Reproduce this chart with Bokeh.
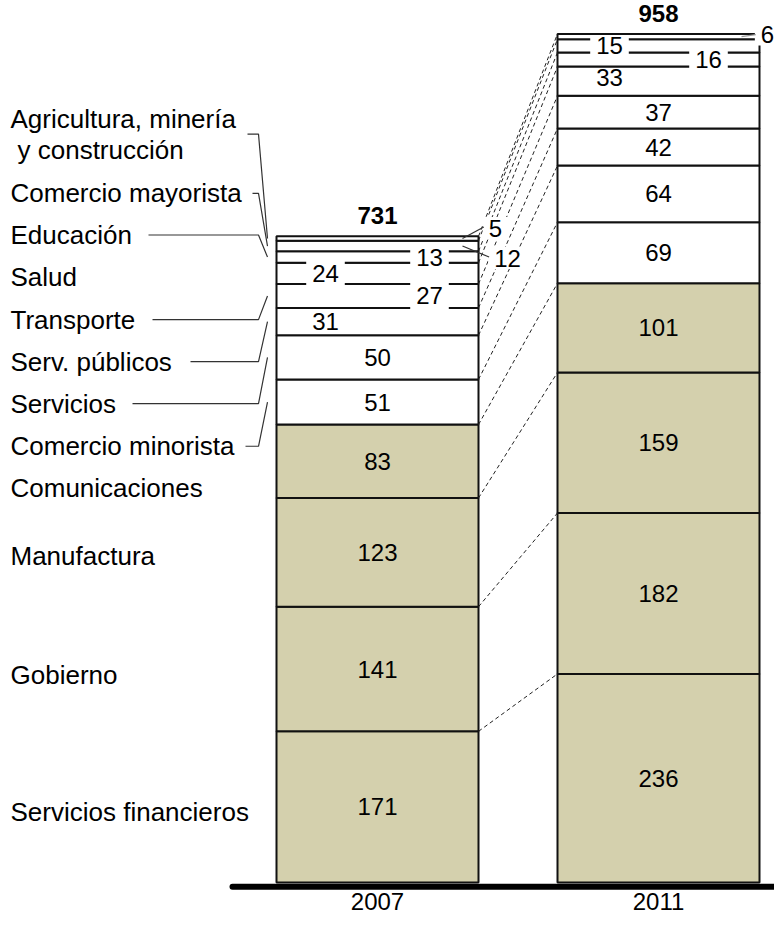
import numpy as np
from bokeh.plotting import figure
from bokeh.models import Range1d, ColumnDataSource
from bokeh.embed import file_html
from bokeh.resources import INLINE
from bokeh.core.properties import value

# ---------------- data ----------------
years = ["2007", "2011"]
categories = ["Servicios financieros", "Gobierno", "Manufactura", "Comunicaciones",
              "Comercio minorista", "Servicios", "Serv. públicos", "Transporte",
              "Salud", "Educación", "Comercio mayorista",
              "Agricultura, minería y construcción"]
values_2007 = [171, 141, 123, 83, 51, 50, 31, 27, 24, 13, 12, 5]
values_2011 = [236, 182, 159, 101, 69, 64, 42, 37, 33, 16, 15, 6]
totals = [731, 958]

# ---------------- layout ----------------
W, H = 774, 920
OX, OY = 0, 4                               # reference pixel shown at figure pixel (0, 0)
BASE_PX, PX_PER_UNIT = 895.4, 0.8934        # reference pixel of value 0, pixels per unit
PX_SCREEN = 0.884                           # pixels per unit actually drawn (fits height)
C0, C1 = 377.0, 658.0                       # reference pixel centres of the two bars
SPAN = C1 - C0


def X(px):
    return (px - C0) / SPAN


def Y(px):
    return (BASE_PX - px) / PX_PER_UNIT


def dX(px):
    return px / SPAN


def dY(px):
    return -px / PX_SCREEN


BAR_W = 202 / SPAN
N_SHADED = 4
KHAKI = "#D4D0AD"
FONT = "Liberation Sans"
LABEL_SIZE = "26px"
NUM_SIZE = "24px"

y_top = Y(OY)
p = figure(width=W, height=H, output_backend="svg", toolbar_location=None,
           x_range=Range1d(X(OX), X(OX + W)),
           y_range=Range1d(y_top - H / PX_SCREEN, y_top),
           x_axis_type=None, y_axis_type=None, min_border_left=0, min_border_right=0,
           min_border_top=0, min_border_bottom=0, outline_line_color=None,
           background_fill_color="white", border_fill_color="white")
p.grid.visible = False

series = [values_2007, values_2011]
n = len(categories)
cums = [np.cumsum(v) for v in series]
mids = [np.cumsum(v) - np.array(v) / 2.0 for v in series]

# ---- stacked bars ----
for i, vals in enumerate(series):
    tops = cums[i]
    bottoms = tops - np.array(vals)
    src = ColumnDataSource(dict(
        left=[i - BAR_W / 2] * n, right=[i + BAR_W / 2] * n,
        bottom=bottoms, top=tops,
        fill=[KHAKI if k < N_SHADED else "white" for k in range(n)]))
    p.quad(left="left", right="right", bottom="bottom", top="top", source=src,
           fill_color="fill", line_color="#111111", line_width=2)

# ---- dashed connectors between matching boundaries ----
p.segment(x0=[BAR_W / 2] * n, y0=cums[0], x1=[1 - BAR_W / 2] * n, y1=cums[1],
          line_color="#222222", line_width=1, line_dash="4 3")

# ---- base line ----
p.line(x=[X(232), X(800)], y=[dY(4.3)] * 2, line_color="black",
       line_width=6, line_cap="round")

# ---- value labels ----
# offsets in pixels (dx right, dy down) from bar centre / segment middle
label_offsets = {
    (0, 6): (-52, 0), (0, 7): (52, 0), (0, 8): (-52, 0), (0, 9): (52, 0),
    (0, 10): (130, 12), (0, 11): (118, -10.5),
    (1, 8): (-49, -4), (1, 9): (50, 0), (1, 10): (-49, 0), (1, 11): (109, -2),
}
outside = {(0, 10), (0, 11), (1, 11)}
boxed = {(0, 7), (0, 8), (0, 9), (1, 9), (1, 10)} | outside

lx, ly, lt = [], [], []
bx, by, bw, bh = [], [], [], []
lead = []
for i, vals in enumerate(series):
    for k, v in enumerate(vals):
        dx, dy = label_offsets.get((i, k), (0, 0))
        x = i + dX(dx)
        y = mids[i][k] + dY(dy)
        txt = str(v)
        lx.append(x); ly.append(y); lt.append(txt)
        if (i, k) in boxed:
            seg_px = v * PX_SCREEN
            h = 22 if (i, k) in outside else max(seg_px + 4, 18)
            bx.append(x); by.append(y); bw.append(len(txt) * 13.3 + 12); bh.append(h)
        if (i, k) in outside:
            x_start = i + BAR_W / 2 - dX(16 if i == 0 else 18)
            x_end = x - dX(len(txt) * 6.7 + 5)
            lead.append((x_start, mids[i][k], x_end, y + dY(-1 if i == 0 else 0),
                         "#333333" if i == 0 else "#999999"))

p.rect(x=bx, y=by, width=bw, height=bh, width_units="screen", height_units="screen",
       fill_color="white", line_color=None)

for x0, y0, x1, y1, c in lead:
    p.line(x=[x0, x1], y=[y0, y1], line_color=c, line_width=1.2)

p.text(x=lx, y=ly, text=lt, text_font=value(FONT), text_font_size=NUM_SIZE,
       text_align="center", text_baseline="middle", text_color="black")

# ---- totals ----
p.text(x=[0, 1], y=[cums[0][-1] + dY(-20.5), cums[1][-1] + dY(-20)],
       text=[str(t) for t in totals], text_font=value(FONT), text_font_size=NUM_SIZE,
       text_font_style="bold", text_align="center", text_baseline="middle",
       text_color="black")

# ---- year labels ----
p.text(x=[0, 1], y=[dY(19)] * 2, text=years, text_font=value(FONT),
       text_font_size=NUM_SIZE, text_align="center", text_baseline="middle",
       text_color="black")

# ---- category labels on the left ----
cat_label_y = [824, 686, 565, 497, 454.5, 411.5, 369, 326.5, 283, 241.3, 199, 124]
ctx, ctxx, cty = [], [], []
for k, name in enumerate(categories):
    if " y " in name:
        a, b = name.split(" y ", 1)
        ctx += [a, "y " + b]
        ctxx += [X(10), X(17)]
        cty += [Y(cat_label_y[k]), Y(cat_label_y[k] + 31)]
    else:
        ctx.append(name)
        ctxx.append(X(10))
        cty.append(Y(cat_label_y[k]))
p.text(x=ctxx, y=cty, text=ctx, text_font=value(FONT),
       text_font_size=LABEL_SIZE, text_align="left", text_baseline="middle",
       text_color="black")

# ---- leader lines from category labels to 2007 segments ----
leaders = [(11, 247, 139), (10, 252, 199), (9, 148, 241), (7, 152, 326.5),
           (6, 190, 369), (5, 132, 411.5), (4, 245, 454.5)]
ELBOW_PX, END_PX = 258, 267
for k, sx, ypx in leaders:
    p.line(x=[X(sx), X(ELBOW_PX), X(END_PX)], y=[Y(ypx), Y(ypx), mids[0][k]],
           line_color="#333333", line_width=1.2)

open("out.html", "w").write(file_html(p, INLINE))
